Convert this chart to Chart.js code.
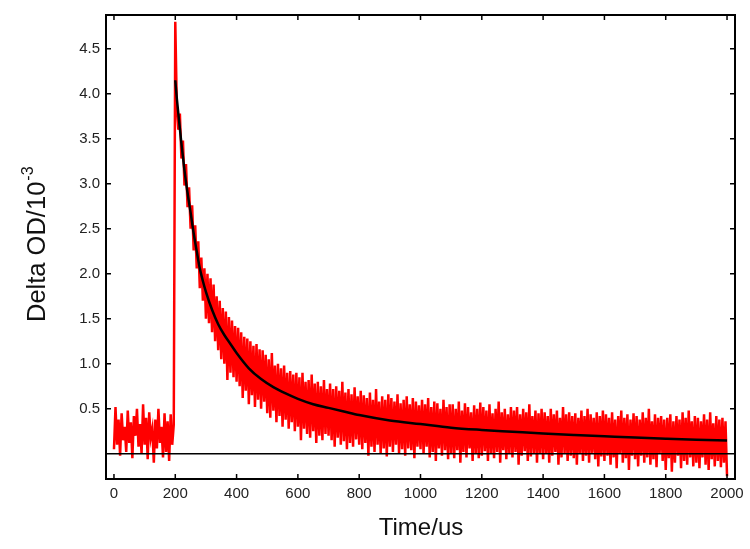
<!DOCTYPE html>
<html>
<head>
<meta charset="utf-8">
<title>Delta OD decay</title>
<script src="https://cdn.jsdelivr.net/npm/chart.js@4.4.1/dist/chart.umd.min.js"></script>
<style>
  html, body { margin: 0; padding: 0; background: #fff; }
  #wrap { width: 750px; height: 549px; }
</style>
</head>
<body>
<div id="wrap"><canvas id="chart" width="750" height="549"></canvas></div>
<script>
// time axis ticks and y ticks
const xTicks = [0, 200, 400, 600, 800, 1000, 1200, 1400, 1600, 1800, 2000];
const yTicks = [0.5, 1.0, 1.5, 2.0, 2.5, 3.0, 3.5, 4.0, 4.5];

// measured signal, one sample every 5 us from t = 0
const signalStart = 0;
const signalStep = 5;
const signalValues = [
  0.05, 0.52, 0.10, 0.38, -0.02, 0.45, 0.15, 0.30, 0.02, 0.48, 0.12, 0.35, -0.05, 0.42, 0.20, 0.50, 0.08, 0.33, 0.00, 0.55,
  0.10, 0.40, -0.06, 0.46, 0.18, 0.28, -0.10, 0.38, 0.06, 0.50, 0.12, 0.30, -0.04, 0.45, 0.02, 0.36, -0.08, 0.44, 0.10, 0.32,
  4.80, 3.85, 3.60, 3.78, 3.28, 3.48, 2.98, 3.22, 2.74, 2.96, 2.50, 2.76, 2.26, 2.54, 2.06, 2.36, 1.84, 2.18, 1.70, 2.06,
  1.50, 2.00, 1.45, 1.95, 1.35, 1.88, 1.25, 1.75, 1.15, 1.70, 1.05, 1.62, 1.00, 1.58, 0.82, 1.52, 0.90, 1.48, 0.85, 1.42,
  0.80, 1.40, 0.75, 1.35, 0.62, 1.30, 0.70, 1.28, 0.55, 1.25, 0.65, 1.20, 0.52, 1.22, 0.60, 1.16, 0.50, 1.15, 0.58, 1.10,
  0.45, 1.05, 0.40, 1.12, 0.48, 0.98, 0.35, 1.00, 0.42, 0.95, 0.30, 0.98, 0.38, 0.90, 0.28, 0.92, 0.35, 0.88, 0.25, 0.90,
  0.30, 0.85, 0.15, 0.90, 0.28, 0.80, 0.22, 0.82, 0.18, 0.88, 0.25, 0.78, 0.12, 0.80, 0.20, 0.75, 0.15, 0.82, 0.22, 0.72,
  0.20, 0.78, 0.15, 0.72, 0.08, 0.75, 0.18, 0.70, 0.10, 0.80, 0.14, 0.68, 0.05, 0.72, 0.12, 0.66, 0.08, 0.74, 0.16, 0.64,
  0.10, 0.70, 0.05, 0.65, 0.12, 0.62, -0.02, 0.68, 0.08, 0.60, 0.02, 0.72, 0.10, 0.58, 0.00, 0.64, 0.06, 0.60, -0.03, 0.66,
  0.08, 0.62, 0.02, 0.58, 0.10, 0.66, 0.00, 0.56, 0.05, 0.60, -0.02, 0.64, 0.06, 0.55, 0.04, 0.62, -0.05, 0.58, 0.08, 0.54,
  0.05, 0.60, 0.00, 0.55, 0.08, 0.62, -0.04, 0.52, 0.02, 0.58, -0.08, 0.56, 0.06, 0.50, -0.02, 0.60, 0.04, 0.52, -0.06, 0.55,
  0.00, 0.55, -0.05, 0.50, 0.04, 0.58, -0.10, 0.48, 0.02, 0.56, -0.04, 0.52, 0.06, 0.46, -0.08, 0.54, 0.00, 0.50, -0.05, 0.57,
  -0.02, 0.52, 0.03, 0.48, -0.08, 0.55, 0.00, 0.45, -0.05, 0.50, 0.02, 0.58, -0.10, 0.46, 0.04, 0.50, -0.06, 0.44, 0.00, 0.52,
  -0.04, 0.48, 0.02, 0.52, -0.12, 0.44, -0.02, 0.50, 0.03, 0.46, -0.08, 0.55, -0.03, 0.42, 0.01, 0.48, -0.10, 0.45, 0.00, 0.50,
  -0.06, 0.46, 0.00, 0.42, -0.10, 0.50, -0.02, 0.44, 0.02, 0.48, -0.12, 0.40, -0.04, 0.52, 0.00, 0.44, -0.08, 0.46, -0.02, 0.42,
  -0.05, 0.45, -0.12, 0.40, 0.00, 0.48, -0.08, 0.42, -0.02, 0.50, -0.10, 0.44, 0.01, 0.40, -0.06, 0.46, -0.14, 0.42, -0.03, 0.48,
  -0.08, 0.44, -0.02, 0.40, -0.12, 0.46, -0.04, 0.38, -0.16, 0.42, 0.00, 0.48, -0.10, 0.40, -0.05, 0.44, -0.18, 0.38, -0.02, 0.45,
  -0.06, 0.42, -0.14, 0.38, -0.02, 0.46, -0.10, 0.40, -0.04, 0.50, -0.12, 0.36, -0.06, 0.44, -0.15, 0.40, 0.00, 0.42, -0.08, 0.38,
  -0.18, 0.40, -0.05, 0.44, -0.20, 0.36, -0.10, 0.42, -0.02, 0.38, -0.16, 0.46, -0.08, 0.40, -0.12, 0.48, -0.04, 0.36, -0.14, 0.42,
  -0.10, 0.40, -0.16, 0.36, -0.04, 0.44, -0.12, 0.38, -0.18, 0.46, -0.06, 0.34, -0.14, 0.42, -0.08, 0.38, -0.15, 0.40, -0.10, 0.36,
  -0.25
];

// fitted decay curve
const fitTimes = [200, 205, 210, 220, 230, 240, 250, 260, 270, 280, 290, 300, 320, 340, 360, 380, 400, 440, 480, 520,
  560, 600, 650, 700, 750, 800, 900, 1000, 1100, 1200, 1300, 1400, 1500, 1600, 1700, 1800, 1900, 2000];
const fitValues = [4.15, 3.95, 3.78, 3.45, 3.15, 2.9, 2.68, 2.45, 2.25, 2.06, 1.92, 1.8, 1.6, 1.44, 1.32, 1.22, 1.12, 0.95, 0.83, 0.74,
  0.67, 0.61, 0.55, 0.51, 0.47, 0.43, 0.37, 0.33, 0.29, 0.265, 0.245, 0.225, 0.21, 0.195, 0.18, 0.168, 0.157, 0.148];

const FONT = '"Liberation Sans", Arial, sans-serif';

const signalPoints = signalValues.map((v, i) => ({ x: signalStart + i * signalStep, y: v }));
const fitPoints = fitTimes.map((t, i) => ({ x: t, y: fitValues[i] }));

// frame, inward ticks on all sides, zero line and axis titles
const framePlugin = {
  id: 'frame',
  afterDatasetsDraw(chart) {
    const { ctx, chartArea: a, scales } = chart;
    const xs = scales.x, ys = scales.y;
    ctx.save();
    ctx.strokeStyle = '#000';

    // zero line
    const y0 = ys.getPixelForValue(0);
    ctx.lineWidth = 1.5;
    ctx.beginPath();
    ctx.moveTo(a.left, y0);
    ctx.lineTo(a.right, y0);
    ctx.stroke();

    // ticks
    const len = 5;
    ctx.lineWidth = 1.5;
    ctx.beginPath();
    xTicks.forEach(t => {
      const px = xs.getPixelForValue(t);
      ctx.moveTo(px, a.bottom); ctx.lineTo(px, a.bottom - len);
      ctx.moveTo(px, a.top); ctx.lineTo(px, a.top + len);
    });
    yTicks.forEach(t => {
      const py = ys.getPixelForValue(t);
      ctx.moveTo(a.left, py); ctx.lineTo(a.left + len, py);
      ctx.moveTo(a.right, py); ctx.lineTo(a.right - len, py);
    });
    ctx.stroke();

    // frame
    ctx.lineWidth = 2;
    ctx.strokeRect(a.left, a.top, a.right - a.left, a.bottom - a.top);

    // x title
    ctx.fillStyle = '#111';
    ctx.font = '24px ' + FONT;
    ctx.textAlign = 'center';
    ctx.textBaseline = 'alphabetic';
    ctx.fillText('Time/us', 421, 535);

    // y title with superscript
    const main = 'Delta OD/10';
    const sup = '-3';
    ctx.font = '25.5px ' + FONT;
    const wMain = ctx.measureText(main).width;
    ctx.translate(45, 322);
    ctx.rotate(-Math.PI / 2);
    ctx.textAlign = 'left';
    ctx.fillText(main, 0, 0);
    ctx.font = '16px ' + FONT;
    ctx.fillText(sup, wMain + 1, -12);
    ctx.restore();
  }
};

new Chart(document.getElementById('chart'), {
  type: 'line',
  data: {
    datasets: [
      {
        label: 'Fit',
        data: fitPoints,
        borderColor: '#000',
        borderWidth: 2.5,
        pointRadius: 0,
        cubicInterpolationMode: 'monotone',
        order: 0
      },
      {
        label: 'Signal',
        data: signalPoints,
        borderColor: '#ff0000',
        borderWidth: 2.5,
        pointRadius: 0,
        tension: 0,
        order: 1
      }
    ]
  },
  options: {
    responsive: false,
    animation: false,
    events: [],
    layout: { padding: { top: 11, right: 15, left: 0, bottom: 0 } },
    plugins: { legend: { display: false }, tooltip: { enabled: false } },
    scales: {
      x: {
        type: 'linear',
        min: -26,
        max: 2026,
        grid: { display: false, drawTicks: false },
        border: { display: false },
        afterBuildTicks: s => { s.ticks = xTicks.map(v => ({ value: v })); },
        afterFit: s => { s.height = 70; },
        ticks: {
          padding: 6,
          color: '#222',
          font: { family: FONT, size: 15 },
          maxRotation: 0,
          callback: v => String(v)
        }
      },
      y: {
        type: 'linear',
        min: -0.28,
        max: 4.875,
        grid: { display: false, drawTicks: false },
        border: { display: false },
        afterBuildTicks: s => { s.ticks = yTicks.map(v => ({ value: v })); },
        afterFit: s => { s.width = 106; },
        ticks: {
          padding: 6,
          color: '#222',
          font: { family: FONT, size: 15 },
          callback: v => v.toFixed(1)
        }
      }
    }
  },
  plugins: [framePlugin]
});
</script>
</body>
</html>
